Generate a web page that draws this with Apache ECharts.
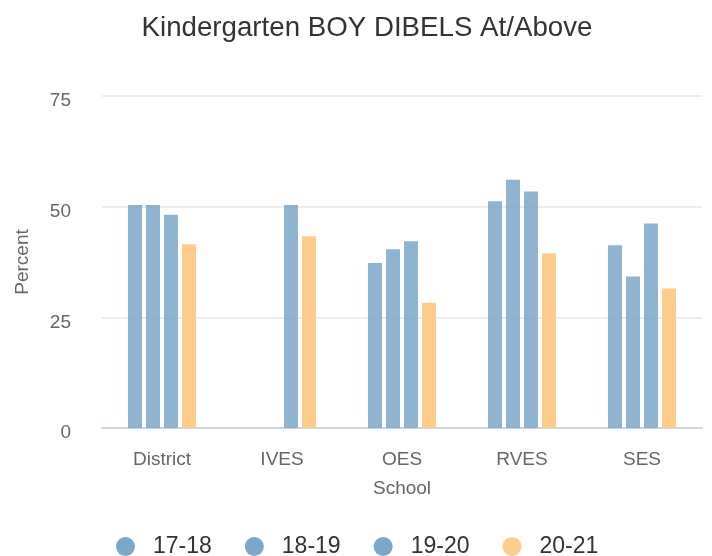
<!DOCTYPE html>
<html>
<head>
<meta charset="utf-8">
<script src="https://cdn.jsdelivr.net/npm/echarts@6/dist/echarts.min.js"></script>
<style>
html,body{margin:0;padding:0;background:#fff;}
#chart{width:712px;height:556px;}
</style>
</head>
<body>
<div id="chart"></div>
<script>
var categories = ['District', 'IVES', 'OES', 'RVES', 'SES'];
var seriesNames = ['17-18', '18-19', '19-20', '20-21'];
var s1718 = [50.4, null, 37.3, 51.2, 41.3];
var s1819 = [50.4, null, 40.4, 56.1, 34.2];
var s1920 = [48.2, 50.4, 42.2, 53.4, 46.2];
var s2021 = [41.5, 43.3, 28.3, 39.5, 31.5];
var yTicks = [0, 25, 50, 75];

var FONT = '"Liberation Sans", Arial, Helvetica, sans-serif';
var blue = 'rgb(124,167,200)';
var orange = 'rgb(254,204,140)';

function bar(name, data, color, opacity) {
  return {
    name: name,
    type: 'bar',
    data: data,
    barWidth: 14,
    barGap: '28.57%',
    itemStyle: { color: color, opacity: opacity },
    emphasis: { disabled: true }
  };
}

var chart = echarts.init(document.getElementById('chart'), null, { renderer: 'canvas' });
chart.setOption({
  animation: false,
  backgroundColor: '#fff',
  textStyle: { fontFamily: FONT },
  title: {
    text: 'Kindergarten BOY DIBELS At/Above',
    left: 362,
    textAlign: 'center',
    top: 9,
    textStyle: { fontFamily: FONT, fontSize: 27.7, fontWeight: 'normal', color: '#333' }
  },
  legend: {
    data: seriesNames.map(function (n) { return { name: n, itemStyle: { opacity: 1 } }; }),
    left: 116,
    top: 535,
    padding: 0,
    icon: 'circle',
    itemWidth: 19,
    itemHeight: 19,
    itemGap: 33,
    textStyle: { fontFamily: FONT, fontSize: 23, color: '#333', padding: [0, 0, 0, 13] }
  },
  grid: { left: 102, right: 10, top: 96, bottom: 128 },
  xAxis: {
    type: 'category',
    data: categories,
    name: 'School',
    nameLocation: 'middle',
    nameGap: 51,
    nameTextStyle: { fontFamily: FONT, fontSize: 19, color: '#666' },
    axisLine: { show: true, lineStyle: { color: '#ccd6eb', width: 2 } },
    axisTick: { show: false },
    axisLabel: { fontFamily: FONT, fontSize: 19, color: '#666', margin: 22 }
  },
  yAxis: {
    type: 'value',
    min: yTicks[0],
    max: yTicks[yTicks.length - 1],
    interval: 25,
    name: 'Percent',
    nameLocation: 'middle',
    nameGap: 70,
    nameRotate: 90,
    nameTextStyle: { fontFamily: FONT, fontSize: 19, color: '#666' },
    axisLine: { show: false },
    axisTick: { show: false },
    axisLabel: { fontFamily: FONT, fontSize: 19, color: '#666', margin: 31, verticalAlign: 'top', lineHeight: 10 },
    splitLine: { lineStyle: { color: '#e6e6e6', width: 1.5 } }
  },
  series: [
    bar(seriesNames[0], s1718, blue, 0.85),
    bar(seriesNames[1], s1819, blue, 0.85),
    bar(seriesNames[2], s1920, blue, 0.85),
    bar(seriesNames[3], s2021, orange, 1)
  ]
});
</script>
</body>
</html>
